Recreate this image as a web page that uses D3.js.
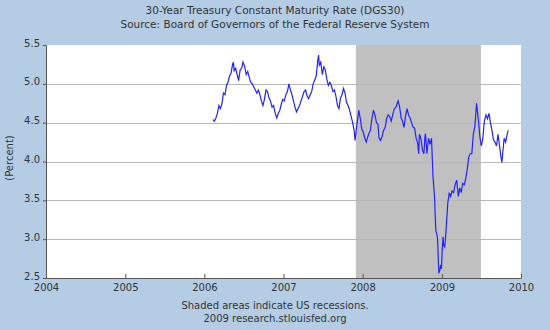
<!DOCTYPE html>
<html><head><meta charset="utf-8">
<script src="https://cdn.jsdelivr.net/npm/d3@7"></script>
<style>body{margin:0;background:#b4cde4;}svg{display:block;font-family:"DejaVu Sans",sans-serif;}</style>
</head><body><svg id="c" width="550" height="330"></svg>
<script>
const titleLines = ["30-Year Treasury Constant Maturity Rate (DGS30)", "Source: Board of Governors of the Federal Reserve System"];
const noteLines = ["Shaded areas indicate US recessions.", "2009 research.stlouisfed.org"];
const yAxisTitle = "(Percent)";
const yTicks = [2.5, 3.0, 3.5, 4.0, 4.5, 5.0, 5.5];
const xTickYears = [2004, 2005, 2006, 2007, 2008, 2009, 2010];
const recessionStart = ["2007-12-01"];
const recessionEnd = ["2009-06-30"];
const dates = [
"2006-02-09","2006-02-16","2006-02-23","2006-03-02","2006-03-09","2006-03-16","2006-03-23","2006-03-30","2006-04-06","2006-04-13","2006-04-20","2006-04-27","2006-05-04","2006-05-11","2006-05-15","2006-05-18","2006-05-25","2006-06-01","2006-06-08","2006-06-15","2006-06-22","2006-06-28","2006-07-06","2006-07-13","2006-07-20","2006-07-27","2006-08-03","2006-08-10","2006-08-17","2006-08-24","2006-08-31","2006-09-07","2006-09-14","2006-09-21","2006-09-28","2006-10-05","2006-10-12","2006-10-19","2006-10-26","2006-11-02","2006-11-09","2006-11-16","2006-11-24","2006-12-01","2006-12-08","2006-12-15","2006-12-22","2006-12-29",
"2007-01-05","2007-01-12","2007-01-19","2007-01-26","2007-02-02","2007-02-09","2007-02-16","2007-02-23","2007-03-02","2007-03-09","2007-03-16","2007-03-23","2007-03-30","2007-04-06","2007-04-13","2007-04-20","2007-04-27","2007-05-04","2007-05-11","2007-05-18","2007-05-25","2007-06-01","2007-06-08","2007-06-12","2007-06-15","2007-06-22","2007-06-29","2007-07-06","2007-07-13","2007-07-20","2007-07-27","2007-08-03","2007-08-10","2007-08-17","2007-08-24","2007-08-31","2007-09-07","2007-09-14","2007-09-21","2007-09-28","2007-10-05","2007-10-12","2007-10-19","2007-10-26","2007-11-02","2007-11-09","2007-11-16","2007-11-23","2007-11-27","2007-12-04","2007-12-11","2007-12-14","2007-12-21","2007-12-28",
"2008-01-04","2008-01-11","2008-01-18","2008-01-23","2008-01-30","2008-02-06","2008-02-13","2008-02-20","2008-02-27","2008-03-05","2008-03-12","2008-03-17","2008-03-24","2008-03-31","2008-04-07","2008-04-14","2008-04-21","2008-04-28","2008-05-05","2008-05-12","2008-05-19","2008-05-27","2008-06-03","2008-06-10","2008-06-13","2008-06-20","2008-06-27","2008-07-03","2008-07-10","2008-07-17","2008-07-24","2008-07-31","2008-08-07","2008-08-14","2008-08-21","2008-08-28","2008-09-04","2008-09-11","2008-09-16","2008-09-19","2008-09-26","2008-10-03","2008-10-10","2008-10-14","2008-10-17","2008-10-24","2008-10-31","2008-11-07","2008-11-14","2008-11-21","2008-11-28","2008-12-03","2008-12-05","2008-12-10","2008-12-12","2008-12-16","2008-12-18","2008-12-22","2008-12-26","2008-12-30",
"2009-01-02","2009-01-06","2009-01-09","2009-01-14","2009-01-20","2009-01-23","2009-01-28","2009-02-04","2009-02-10","2009-02-17","2009-02-24","2009-03-03","2009-03-10","2009-03-18","2009-03-24","2009-03-31","2009-04-07","2009-04-14","2009-04-21","2009-04-28","2009-05-05","2009-05-12","2009-05-19","2009-05-26","2009-06-02","2009-06-05","2009-06-10","2009-06-15","2009-06-19","2009-06-26","2009-07-02","2009-07-09","2009-07-16","2009-07-23","2009-07-30","2009-08-06","2009-08-13","2009-08-20","2009-08-27","2009-09-03","2009-09-10","2009-09-17","2009-09-24","2009-10-01","2009-10-05","2009-10-15","2009-10-22","2009-10-29","2009-11-03"];
const rates = [
4.54,4.52,4.56,4.62,4.72,4.68,4.75,4.88,4.86,4.98,5.02,5.10,5.14,5.25,5.28,5.17,5.20,5.12,5.04,5.18,5.20,5.28,5.22,5.12,5.16,5.08,5.02,5.00,4.96,4.92,4.88,4.92,4.86,4.78,4.72,4.80,4.92,4.90,4.82,4.78,4.70,4.72,4.62,4.56,4.62,4.66,4.74,4.80,
4.78,4.86,4.90,5.00,4.92,4.86,4.78,4.70,4.64,4.68,4.72,4.78,4.84,4.90,4.92,4.84,4.81,4.86,4.90,5.00,5.05,5.10,5.30,5.37,5.24,5.28,5.12,5.22,5.18,5.06,4.98,5.02,4.98,4.90,4.92,4.84,4.72,4.68,4.82,4.86,4.94,4.88,4.76,4.72,4.66,4.58,4.50,4.40,4.27,4.44,4.58,4.66,4.56,4.42,
4.38,4.30,4.25,4.30,4.36,4.40,4.55,4.66,4.60,4.50,4.48,4.30,4.27,4.32,4.40,4.44,4.55,4.60,4.58,4.52,4.60,4.68,4.70,4.76,4.78,4.70,4.56,4.52,4.44,4.58,4.68,4.60,4.56,4.50,4.44,4.43,4.30,4.24,4.10,4.35,4.30,4.15,4.10,4.30,4.36,4.10,4.30,4.22,4.30,3.80,3.55,3.16,3.10,3.05,3.00,2.70,2.56,2.60,2.65,2.62,
2.83,3.03,2.92,2.90,3.10,3.24,3.46,3.60,3.55,3.62,3.60,3.70,3.76,3.55,3.66,3.60,3.72,3.70,3.78,3.90,4.06,4.10,4.10,4.35,4.45,4.56,4.75,4.62,4.52,4.30,4.20,4.30,4.52,4.60,4.55,4.62,4.50,4.40,4.28,4.25,4.20,4.35,4.20,4.05,3.99,4.30,4.25,4.35,4.40];

const parse = d3.timeParse("%Y-%m-%d");
const data = dates.map((d,i)=>({date:parse(d), v:rates[i]}));
const svg = d3.select("#c");
const W=550,H=330;
const m={l:46,r:29,t:45,b:52};
const x = d3.scaleTime().domain([new Date(2004,0,1), new Date(2010,0,1)]).range([m.l, W-m.r]);
const y = d3.scaleLinear().domain([2.5,5.5]).range([H-m.b, m.t]);

svg.append("rect").attr("width",W).attr("height",H).attr("fill","#b4cde4");
svg.append("rect").attr("x",m.l).attr("y",m.t).attr("width",W-m.l-m.r).attr("height",H-m.t-m.b).attr("fill","#fff");
recessionStart.forEach((s,i)=>{
  const x0=x(parse(s)), x1=x(parse(recessionEnd[i]));
  svg.append("rect").attr("x",x0).attr("y",m.t).attr("width",x1-x0).attr("height",H-m.t-m.b).attr("fill","#c0c0c0");
});
// grid
svg.append("g").selectAll("line").data(yTicks.slice(1,-1)).join("line")
  .attr("x1",m.l).attr("x2",W-m.r).attr("y1",d=>Math.round(y(d))+0.5).attr("y2",d=>Math.round(y(d))+0.5)
  .attr("stroke","#b8b8b8").attr("stroke-width",1);
// line
svg.append("path").datum(data).attr("fill","none").attr("stroke","#2222ff").attr("stroke-width",1.2)
  .attr("d", d3.line().x(d=>x(d.date)).y(d=>y(d.v)));
// axes
const ya = svg.append("g").attr("transform",`translate(${m.l},0)`)
  .call(d3.axisLeft(y).tickValues(yTicks).tickFormat(d3.format(".1f")).tickSize(3).tickPadding(3));
const xa = svg.append("g").attr("transform",`translate(0,${H-m.b})`)
  .call(d3.axisBottom(x).tickValues(xTickYears.map(v=>new Date(v,0,1))).tickFormat(d3.timeFormat("%Y")).tickSizeInner(-4).tickSizeOuter(0).tickPadding(6));
[ya,xa].forEach(g=>{
  g.select(".domain").attr("stroke","#555");
  g.selectAll(".tick line").attr("stroke","#555");
  g.selectAll("text").attr("fill","#333").attr("font-size",10).attr("font-family","DejaVu Sans, sans-serif");
});
ya.selectAll(".tick text").attr("dy","0.1em");
svg.append("text").attr("transform","translate(13,158) rotate(-90)").attr("text-anchor","middle")
  .attr("font-size",10).attr("fill","#333").text(yAxisTitle);
svg.selectAll(".title").data(titleLines).join("text").attr("class","title")
  .attr("x",275).attr("y",(d,i)=>14+i*14).attr("text-anchor","middle").attr("font-size",10.5).attr("fill","#333").text(d=>d);
svg.selectAll(".note").data(noteLines).join("text").attr("class","note")
  .attr("x",275).attr("y",(d,i)=>309+i*13).attr("text-anchor","middle").attr("font-size",10).attr("fill","#333").text(d=>d);
</script></body></html>
